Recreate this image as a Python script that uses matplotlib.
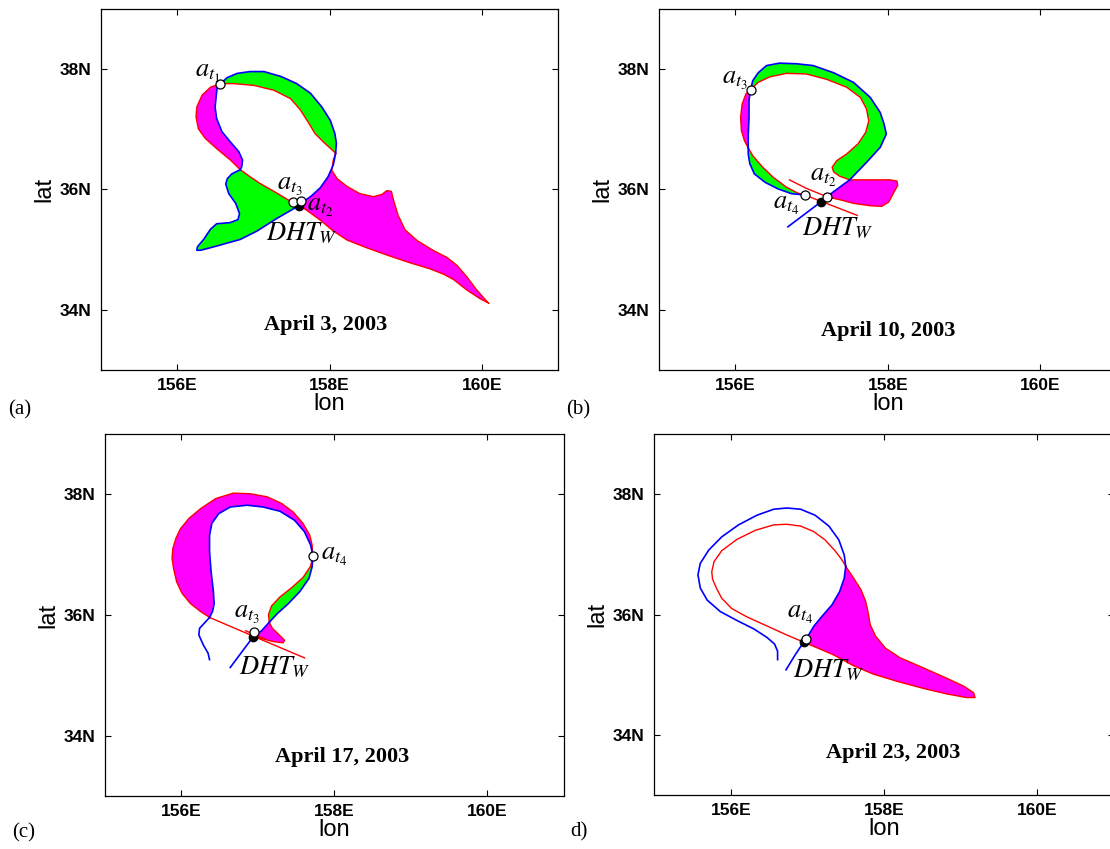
import matplotlib.pyplot as plt
import numpy as np

plt.rcParams['font.family'] = 'Liberation Sans'
plt.rcParams['mathtext.fontset'] = 'stix'

BLUE = '#0000ff'
RED = '#ff0000'
GREEN = '#00ff00'
MAGENTA = '#ff00ff'

# ---------------- (a) April 3, 2003 ----------------
A_DHT = (157.60, 35.73)
A_OPEN = [(156.57, 37.76), (157.52, 35.79), (157.63, 35.81)]
A_BLUE_1 = [(157.60, 35.73), (157.53, 35.68), (157.31, 35.52), (157.05, 35.31), (156.83, 35.17),
            (156.52, 35.06), (156.31, 34.99), (156.26, 34.99), (156.27, 35.05), (156.35, 35.17),
            (156.44, 35.34), (156.52, 35.43), (156.70, 35.45), (156.80, 35.50), (156.82, 35.60),
            (156.77, 35.77), (156.68, 35.93), (156.64, 36.09), (156.66, 36.18), (156.72, 36.26),
            (156.83, 36.33)]
A_RED_1 = [(157.60, 35.73), (157.44, 35.84), (157.27, 35.97), (157.09, 36.10), (156.96, 36.21),
           (156.83, 36.33)]
A_BLUE_2 = [(156.83, 36.33), (156.85, 36.38), (156.86, 36.49), (156.81, 36.63), (156.70, 36.79),
            (156.59, 36.96), (156.52, 37.18), (156.50, 37.37), (156.52, 37.62), (156.53, 37.70),
            (156.57, 37.76)]
A_RED_2 = [(156.83, 36.33), (156.70, 36.49), (156.52, 36.68), (156.37, 36.85), (156.28, 37.01),
           (156.25, 37.21), (156.26, 37.37), (156.33, 37.57), (156.44, 37.70), (156.57, 37.76)]
A_BLUE_3 = [(156.57, 37.76), (156.66, 37.86), (156.79, 37.93), (156.96, 37.96), (157.14, 37.96),
            (157.36, 37.88), (157.57, 37.76), (157.75, 37.60), (157.90, 37.37), (158.01, 37.15),
            (158.07, 36.93), (158.09, 36.77), (158.08, 36.60)]
A_RED_3 = [(156.57, 37.76), (156.74, 37.76), (157.01, 37.73), (157.27, 37.65), (157.49, 37.51),
           (157.62, 37.32), (157.73, 37.10), (157.81, 36.93), (157.92, 36.79), (158.05, 36.64),
           (158.08, 36.60)]
A_BLUE_4 = [(158.08, 36.60), (158.05, 36.41), (157.98, 36.21), (157.88, 36.03), (157.76, 35.89),
            (157.66, 35.80), (157.60, 35.73)]
A_RED_4 = [(158.08, 36.60), (158.05, 36.49), (158.03, 36.32), (158.10, 36.18), (158.23, 36.05),
           (158.40, 35.93), (158.58, 35.88), (158.69, 35.92), (158.75, 35.98), (158.81, 35.97),
           (158.84, 35.82), (158.90, 35.57), (158.99, 35.33), (159.15, 35.15), (159.37, 34.98),
           (159.54, 34.87), (159.67, 34.74), (159.80, 34.55), (159.93, 34.33), (160.07, 34.13),
           (160.09, 34.11), (159.98, 34.18), (159.80, 34.33), (159.63, 34.50), (159.50, 34.59),
           (159.32, 34.68), (159.06, 34.78), (158.80, 34.89), (158.49, 35.03), (158.23, 35.16),
           (158.05, 35.31), (157.88, 35.49), (157.75, 35.61), (157.66, 35.69), (157.60, 35.73)]

# ---------------- (b) April 10, 2003 ----------------
B_DHT = (157.13, 35.80)
B_OPEN = [(156.20, 37.66), (156.91, 35.91), (157.20, 35.88)]
B_BLUE_STEM = [(156.69, 35.38), (157.13, 35.80), (157.20, 35.88)]
B_BLUE_1 = [(157.20, 35.88), (157.37, 36.04), (157.50, 36.16)]
B_RED_1 = [(157.20, 35.88), (157.37, 35.83), (157.55, 35.77), (157.77, 35.73), (157.92, 35.72),
           (158.01, 35.79), (158.07, 35.93), (158.13, 36.07), (158.12, 36.14), (158.03, 36.16),
           (157.81, 36.16), (157.50, 36.16)]
B_BLUE_2 = [(157.50, 36.16), (157.72, 36.45), (157.90, 36.70), (157.98, 36.92), (157.95, 37.09),
            (157.90, 37.28), (157.77, 37.53), (157.55, 37.78), (157.29, 37.94), (157.02, 38.06),
            (156.80, 38.09), (156.58, 38.10), (156.41, 38.06), (156.30, 37.94), (156.23, 37.81),
            (156.20, 37.66)]
B_RED_2 = [(157.50, 36.16), (157.37, 36.22), (157.29, 36.29), (157.27, 36.37), (157.33, 36.48),
           (157.46, 36.59), (157.61, 36.76), (157.71, 36.95), (157.75, 37.14), (157.72, 37.34),
           (157.64, 37.53), (157.46, 37.70), (157.20, 37.83), (156.93, 37.92), (156.67, 37.93),
           (156.45, 37.87), (156.30, 37.78), (156.20, 37.66)]
B_RED_3 = [(156.20, 37.66), (156.14, 37.59), (156.09, 37.42), (156.07, 37.20), (156.08, 36.98),
           (156.12, 36.81), (156.17, 36.69)]
B_BLUE_3 = [(156.20, 37.66), (156.18, 37.48), (156.18, 37.20), (156.17, 36.92), (156.17, 36.69)]
B_BLUE_4 = [(156.17, 36.69), (156.17, 36.59), (156.19, 36.43), (156.25, 36.26), (156.39, 36.12),
            (156.56, 36.01), (156.74, 35.93), (156.91, 35.91)]
B_RED_4 = [(156.17, 36.69), (156.23, 36.56), (156.36, 36.37), (156.50, 36.20), (156.67, 36.04),
           (156.82, 35.94), (156.91, 35.91)]
B_RED_TAIL = [(156.91, 35.91), (157.13, 35.80), (157.60, 35.57)]
B_RED_LEAD = [(156.71, 36.16), (156.93, 36.02), (157.20, 35.88)]

# ---------------- (c) April 17, 2003 ----------------
C_DHT = (156.94, 35.63)
C_OPEN = [(157.72, 36.98), (156.95, 35.72)]
C_RED_LINE = [(157.61, 35.29), (156.94, 35.65), (156.37, 35.96)]
C_RED_OUT = [(156.37, 35.96), (156.25, 36.06), (156.12, 36.19), (156.01, 36.36), (155.94, 36.55),
             (155.90, 36.77), (155.88, 36.94), (155.89, 37.10), (155.93, 37.27), (155.99, 37.43),
             (156.10, 37.60), (156.25, 37.76), (156.45, 37.93), (156.68, 38.02), (156.90, 38.01),
             (157.12, 37.96), (157.31, 37.85), (157.46, 37.71), (157.59, 37.52), (157.68, 37.32),
             (157.71, 37.16), (157.72, 36.98)]
C_BLUE_IN = [(156.37, 35.96), (156.41, 36.06), (156.43, 36.19), (156.42, 36.39), (156.39, 36.72),
             (156.37, 37.05), (156.37, 37.32), (156.40, 37.52), (156.49, 37.68), (156.64, 37.79),
             (156.86, 37.82), (157.07, 37.79), (157.29, 37.72), (157.48, 37.57), (157.61, 37.38),
             (157.69, 37.16), (157.72, 36.98)]
C_BLUE_TAIL = [(156.37, 35.96), (156.32, 35.89), (156.24, 35.78), (156.23, 35.67), (156.29, 35.50),
               (156.35, 35.37), (156.37, 35.26)]
C_RED_G = [(157.72, 36.98), (157.69, 36.81), (157.59, 36.62), (157.44, 36.45), (157.29, 36.30),
           (157.18, 36.15), (157.14, 36.01), (157.15, 35.88)]
C_BLUE_G = [(157.72, 36.98), (157.71, 36.80), (157.67, 36.61), (157.55, 36.39), (157.40, 36.19),
            (157.26, 36.03), (157.15, 35.88)]
C_RED_M = [(157.15, 35.88), (157.19, 35.78), (157.28, 35.67), (157.35, 35.58), (157.33, 35.54),
           (157.20, 35.56), (157.05, 35.61), (156.94, 35.64)]
C_BLUE_M = [(157.15, 35.88), (157.05, 35.74), (156.94, 35.64)]
C_BLUE_STEM = [(156.94, 35.64), (156.64, 35.13)]
C_RED_STUB = [(156.84, 35.74), (157.10, 35.60)]

# ---------------- (d) April 23, 2003 ----------------
D_DHT = (156.95, 35.54)
D_OPEN = [(156.98, 35.60)]
D_BLUE_1 = [(156.61, 35.25), (156.61, 35.39), (156.57, 35.51), (156.47, 35.62), (156.30, 35.76),
            (156.08, 35.90), (155.86, 36.05), (155.69, 36.24), (155.60, 36.44), (155.57, 36.66),
            (155.60, 36.85), (155.71, 37.07), (155.88, 37.29), (156.10, 37.49), (156.34, 37.65),
            (156.56, 37.75), (156.73, 37.77), (156.91, 37.75), (157.10, 37.65), (157.28, 37.47),
            (157.41, 37.24), (157.48, 36.99), (157.50, 36.80)]
D_BLUE_2 = [(157.50, 36.80), (157.48, 36.60), (157.42, 36.38), (157.32, 36.16), (157.19, 35.97),
            (157.08, 35.80), (157.02, 35.67), (156.98, 35.60), (156.95, 35.54)]
D_BLUE_STEM = [(156.95, 35.54), (156.84, 35.33), (156.72, 35.08)]
D_RED_1 = [(156.95, 35.54), (156.73, 35.66), (156.47, 35.81), (156.21, 35.96), (156.01, 36.10),
           (155.88, 36.27), (155.81, 36.44), (155.76, 36.59), (155.75, 36.71), (155.78, 36.88),
           (155.88, 37.06), (156.08, 37.25), (156.32, 37.40), (156.56, 37.49), (156.73, 37.50),
           (156.91, 37.47), (157.08, 37.38), (157.23, 37.24), (157.36, 37.06), (157.45, 36.91),
           (157.50, 36.80)]
D_RED_2 = [(157.50, 36.80), (157.60, 36.61), (157.70, 36.41), (157.76, 36.22), (157.79, 36.05),
           (157.82, 35.83), (157.89, 35.64), (158.02, 35.44), (158.21, 35.28), (158.52, 35.11),
           (158.82, 34.94), (159.04, 34.81), (159.17, 34.70), (159.19, 34.62), (159.08, 34.62),
           (158.82, 34.68), (158.52, 34.77), (158.17, 34.89), (157.86, 35.01), (157.60, 35.15),
           (157.34, 35.33), (157.12, 35.45), (156.95, 35.54)]


def xy(pts):
    a = np.asarray(pts, dtype=float)
    return a[:, 0], a[:, 1]


def lobe(ax, side1, side2, color):
    # both sides run between the same two crossing points
    poly = np.vstack([np.asarray(side1), np.asarray(side2)[::-1]])
    ax.fill(poly[:, 0], poly[:, 1], color=color, lw=0, zorder=1)


def curves(ax, reds, blues):
    for r in reds:
        ax.plot(*xy(r), color=RED, lw=1.0, zorder=2)
    for b in blues:
        ax.plot(*xy(b), color=BLUE, lw=1.2, zorder=3)


def points(ax, dht, opens):
    ax.plot(*dht, 'o', ms=6, color='k', zorder=4)
    for p in opens:
        ax.plot(*p, 'o', ms=6.5, mfc='w', mec='k', mew=0.9, zorder=5)


def label(ax, x, y, s):
    ax.text(x, y, s, fontsize=19, ha='left', va='baseline', zorder=6)


def setup(ax, date, dx, dy):
    ax.set_xlim(155, 161)
    ax.set_ylim(33, 39)
    ax.set_xticks([156, 158, 160])
    ax.set_xticklabels(['156E', '158E', '160E'], fontweight='bold')
    ax.set_yticks([34, 36, 38])
    ax.set_yticklabels(['34N', '36N', '38N'], fontweight='bold')
    ax.tick_params(direction='in', top=True, right=True, length=4, width=0.8, labelsize=12.5)
    ax.tick_params(axis='x', pad=6)
    ax.tick_params(axis='y', pad=7)
    for s in ax.spines.values():
        s.set_linewidth(0.9)
    ax.set_xlabel('lon', fontsize=17, labelpad=0)
    ax.set_ylabel('lat', fontsize=17, labelpad=3)
    ax.text(dx, dy, date, ha='center', va='center', fontsize=16, fontweight='bold',
            family='Liberation Serif')


fig = plt.figure(figsize=(11.1, 8.49), dpi=100)
ax_a = fig.add_axes([0.0907, 0.5642, 0.4123, 0.4252])
ax_b = fig.add_axes([0.5937, 0.5642, 0.4123, 0.4252])
ax_c = fig.add_axes([0.0943, 0.0624, 0.4138, 0.4264])
ax_d = fig.add_axes([0.5895, 0.0636, 0.4138, 0.4252])

# (a)
lobe(ax_a, A_BLUE_1, A_RED_1, GREEN)
lobe(ax_a, A_RED_2, A_BLUE_2, MAGENTA)
lobe(ax_a, A_BLUE_3, A_RED_3, GREEN)
lobe(ax_a, A_BLUE_4, A_RED_4, MAGENTA)
curves(ax_a, [A_RED_1, A_RED_2, A_RED_3, A_RED_4], [A_BLUE_1, A_BLUE_2, A_BLUE_3, A_BLUE_4])
points(ax_a, A_DHT, A_OPEN)
label(ax_a, 156.24, 37.88, r'$a_{t_1}$')
label(ax_a, 157.31, 35.99, r'$a_{t_3}$')
label(ax_a, 157.71, 35.65, r'$a_{t_2}$')
label(ax_a, 157.17, 35.15, r'$DHT_W$')
setup(ax_a, 'April 3, 2003', 157.95, 33.75)

# (b)
lobe(ax_b, B_BLUE_2, B_RED_2, GREEN)
lobe(ax_b, B_RED_3, B_BLUE_3, MAGENTA)
lobe(ax_b, B_BLUE_4, B_RED_4, GREEN)
lobe(ax_b, B_BLUE_1, B_RED_1, MAGENTA)
curves(ax_b, [B_RED_1, B_RED_2, B_RED_3, B_RED_4, B_RED_TAIL, B_RED_LEAD],
       [B_BLUE_STEM, B_BLUE_1, B_BLUE_2, B_BLUE_3, B_BLUE_4])
points(ax_b, B_DHT, B_OPEN)
label(ax_b, 155.83, 37.76, r'$a_{t_3}$')
label(ax_b, 156.98, 36.15, r'$a_{t_2}$')
label(ax_b, 156.49, 35.68, r'$a_{t_4}$')
label(ax_b, 156.88, 35.23, r'$DHT_W$')
setup(ax_b, 'April 10, 2003', 158.0, 33.64)

# (c)
lobe(ax_c, C_RED_OUT, C_BLUE_IN, MAGENTA)
lobe(ax_c, C_BLUE_G, C_RED_G, GREEN)
lobe(ax_c, C_RED_M, C_BLUE_M, MAGENTA)
curves(ax_c, [C_RED_LINE, C_RED_OUT, C_RED_G, C_RED_M, C_RED_STUB],
       [C_BLUE_IN, C_BLUE_TAIL, C_BLUE_G, C_BLUE_M, C_BLUE_STEM])
points(ax_c, C_DHT, C_OPEN)
label(ax_c, 157.82, 36.91, r'$a_{t_4}$')
label(ax_c, 156.69, 35.96, r'$a_{t_3}$')
label(ax_c, 156.76, 35.02, r'$DHT_W$')
setup(ax_c, 'April 17, 2003', 158.1, 33.64)

# (d)
lobe(ax_d, D_BLUE_2, D_RED_2, MAGENTA)
curves(ax_d, [D_RED_1, D_RED_2], [D_BLUE_1, D_BLUE_2, D_BLUE_STEM])
points(ax_d, D_DHT, D_OPEN)
label(ax_d, 156.73, 35.94, r'$a_{t_4}$')
label(ax_d, 156.81, 34.96, r'$DHT_W$')
setup(ax_d, 'April 23, 2003', 158.12, 33.69)

for x, y, s in [(0.018, 0.517, '(a)'), (0.5207, 0.517, '(b)'),
                (0.0216, 0.019, '(c)'), (0.5216, 0.020, 'd)')]:
    fig.text(x, y, s, ha='center', va='center', fontsize=15, family='Liberation Serif')

fig.savefig('out.png', dpi=100)
